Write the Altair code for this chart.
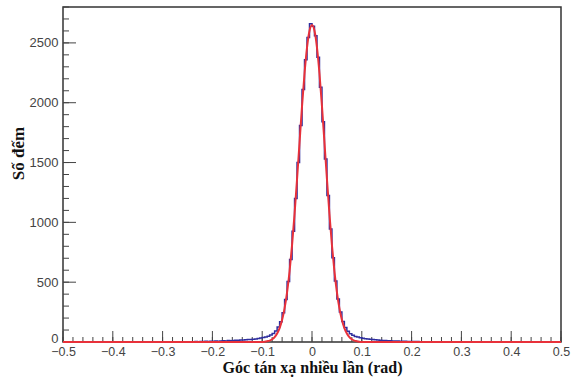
import altair as alt
import pandas as pd
import numpy as np

# Histogram (blue): bins of width 0.005 from -0.25 to 0.25
bin_start = -0.25
bin_width = 0.005
blue_counts = [
    2, 3, 2, 4, 3, 5, 4, 6, 5, 7,
    6, 8, 7, 9, 10, 9, 12, 11, 13, 14,
    15, 17, 16, 19, 21, 20, 24, 26, 29, 33,
    38, 42, 48, 58, 72, 92, 125, 170, 245, 355,
    505, 690, 925, 1200, 1500, 1810, 2110, 2360, 2545, 2660,
    2640, 2560, 2380, 2130, 1840, 1530, 1225, 945, 705, 510,
    360, 250, 172, 122, 90, 70, 57, 47, 41, 36,
    31, 28, 25, 22, 20, 18, 16, 14, 13, 12,
    11, 10, 9, 9, 8, 7, 7, 6, 5, 5,
    5, 4, 4, 3, 3, 3, 2, 2, 2, 1,
]

# Fitted curve (red)
fit_x = [-0.5, -0.1, -0.095, -0.09, -0.085, -0.08, -0.075, -0.07, -0.065, -0.06, -0.055,
         -0.05, -0.045, -0.04, -0.035, -0.03, -0.025, -0.02, -0.015, -0.01, -0.005, 0.0,
         0.005, 0.01, 0.015, 0.02, 0.025, 0.03, 0.035, 0.04, 0.045, 0.05,
         0.055, 0.06, 0.065, 0.07, 0.075, 0.08, 0.085, 0.09, 0.095, 0.1, 0.5]
fit_y = [0, 1, 3, 7, 12, 23, 41, 71, 116, 185, 283,
         417, 593, 811, 1071, 1362, 1669, 1971, 2244, 2461, 2601, 2650,
         2601, 2461, 2244, 1971, 1669, 1362, 1071, 811, 593, 417,
         283, 185, 116, 71, 41, 23, 12, 7, 3, 1, 0]

W, H = 498, 335
XDOM = [-0.5, 0.5]
YDOM = [0, 2800]

edges = [-0.5] + [round(bin_start + bin_width * i, 4) for i in range(len(blue_counts))] + [0.25, 0.5]
counts = [0] + blue_counts + [0, 0]
hist_df = pd.DataFrame({"x": edges, "y": counts})
fit_df = pd.DataFrame({"x": fit_x, "y": fit_y})

xs = alt.Scale(domain=XDOM, nice=False, zero=False)
ys = alt.Scale(domain=YDOM, nice=False)

x_major = [round(v, 2) for v in np.arange(-0.5, 0.51, 0.1)]
x_minor = [round(v, 2) for v in np.arange(-0.5, 0.501, 0.02)]
y_major = list(range(0, 2501, 500))
y_minor = list(range(0, 2801, 100))

base_axes = alt.Chart(pd.DataFrame({"x": [0.0], "y": [0]})).mark_point(opacity=0).encode(
    x=alt.X("x:Q", scale=xs,
            axis=alt.Axis(values=x_major, ticks=False, domain=False, grid=False,
                          labelExpr="datum.value == 0 ? '0' : format(datum.value, '.1f')",
                          labelFlush=False, labelOverlap=False,
                          labelFont="Liberation Sans", labelFontSize=12.5, labelColor="#444",
                          labelPadding=3, title="Góc tán xạ nhiều lần (rad)",
                          titleFont="Liberation Serif", titleFontSize=16, titleFontWeight="bold",
                          titleColor="#111", titlePadding=2)),
    y=alt.Y("y:Q", scale=ys,
            axis=alt.Axis(values=y_major, ticks=False, domain=False, grid=False, format="d",
                          labelFlush=False, labelOverlap=False,
                          labelOffset={"condition": {"test": "datum.value === 0", "value": -4}, "value": 0},
                          labelFont="Liberation Sans", labelFontSize=13, labelColor="#444",
                          labelPadding=5, title="Số đếm",
                          titleFont="Liberation Serif", titleFontSize=17, titleFontWeight="bold",
                          titleColor="#111", titleX=-36, titleY=146)),
)

xmaj = alt.Chart(pd.DataFrame({"x": x_major})).mark_rule(color="#444", strokeWidth=1).encode(
    x=alt.X("x:Q", scale=xs), y=alt.value(H), y2=alt.value(H - 11))
xmin = alt.Chart(pd.DataFrame({"x": x_minor})).mark_rule(color="#444", strokeWidth=1).encode(
    x=alt.X("x:Q", scale=xs), y=alt.value(H), y2=alt.value(H - 5))
ymaj = alt.Chart(pd.DataFrame({"y": y_major})).mark_rule(color="#444", strokeWidth=1).encode(
    y=alt.Y("y:Q", scale=ys), x=alt.value(0), x2=alt.value(13))
ymin = alt.Chart(pd.DataFrame({"y": y_minor})).mark_rule(color="#444", strokeWidth=1).encode(
    y=alt.Y("y:Q", scale=ys), x=alt.value(0), x2=alt.value(6))

hist = alt.Chart(hist_df).mark_line(interpolate="step-after", color="#2e2e9e", strokeWidth=1.5).encode(
    x=alt.X("x:Q", scale=xs), y=alt.Y("y:Q", scale=ys))
fit = alt.Chart(fit_df).mark_line(interpolate="monotone", color="#e8313a", strokeWidth=2).encode(
    x=alt.X("x:Q", scale=xs), y=alt.Y("y:Q", scale=ys))

chart = alt.layer(base_axes, xmin, xmaj, ymin, ymaj, hist, fit).properties(
    width=W, height=H,
    autosize=alt.AutoSizeParams(type="none"),
    padding={"left": 63, "top": 7, "right": 11, "bottom": 36},
    background="white",
).configure_view(stroke="#333", strokeWidth=1.5)

chart.save("out.html", embed_options={"renderer": "svg", "actions": False})
